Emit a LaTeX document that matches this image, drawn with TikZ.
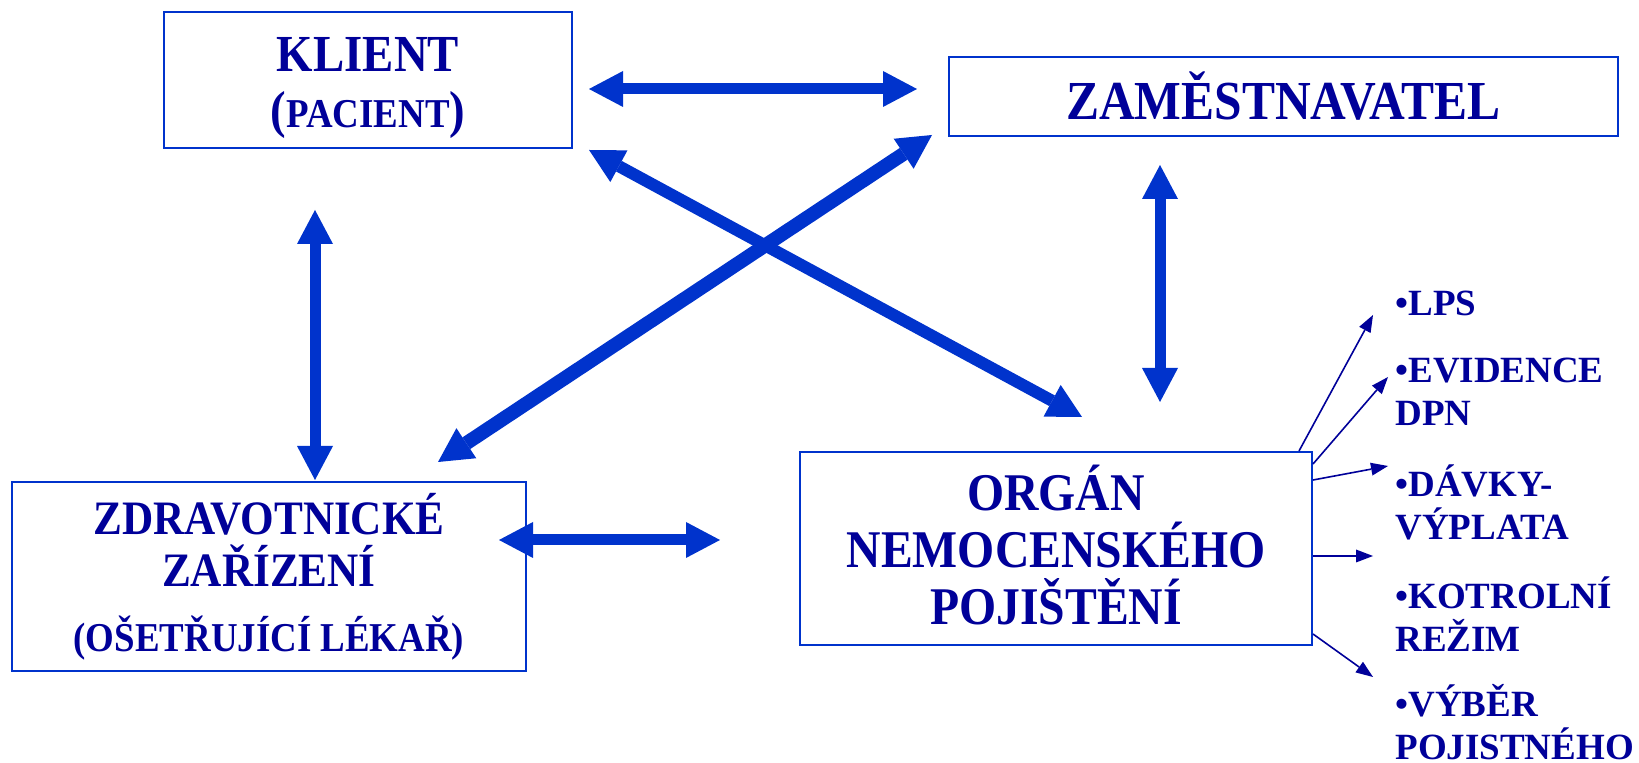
\documentclass[tikz,border=0pt]{standalone}
\usepackage{fontspec}
\usepackage{xcolor}
\usepackage{tikz}
\usetikzlibrary{arrows.meta}
\setmainfont{Liberation Serif}
\newfontfamily\boxfont{Liberation Serif}[FakeStretch=0.9]
\definecolor{textnavy}{RGB}{0,0,153}
\definecolor{linkblue}{RGB}{0,51,204}
\newcommand{\subtext}{\fontsize{20.5}{22}\selectfont}

\begin{document}
\begin{tikzpicture}[x=0.5pt,y=-0.5pt]
\tikzstyle{box} = [draw=linkblue, line width=1pt, text=textnavy, align=center, inner sep=0pt,
	font=\boxfont\bfseries\fontsize{26}{29}\selectfont]
\tikzstyle{big} = [draw=linkblue, line width=5.5pt, >={Triangle[length=17pt,width=18pt,line width=0pt]}, <->]
\tikzstyle{pointer} = [draw=textnavy, line width=0.8pt, >={Triangle[length=8.5pt,width=6.5pt,line width=0pt]}, ->]
\tikzstyle{item} = [anchor=west, align=left, inner sep=0pt, text=textnavy,
	font=\bfseries\fontsize{18.5}{21.5}\selectfont]
%
\useasboundingbox (0,0) rectangle (1639,763);

	\node[box, minimum width=204pt, minimum height=68pt] (klient) at (368,80)
		{\rule{0pt}{25.5pt}KLIENT\\[-1pt]({\subtext PACIENT})};
	\node[box, minimum width=334.5pt, minimum height=39.5pt, font=\boxfont\bfseries\fontsize{27.5}{29}\selectfont] (zam) at (1283.5,96.5)
		{ZAMĚSTNAVATEL};
	\node[box, minimum width=257pt, minimum height=94.5pt, font=\boxfont\bfseries\fontsize{24}{26}\selectfont] (zdrav) at (269,576.5)
		{ZDRAVOTNICKÉ\\ZAŘÍZENÍ\\[6.3pt]{\subtext (OŠETŘUJÍCÍ LÉKAŘ)}};
	\node[box, minimum width=256pt, minimum height=96.5pt, font=\boxfont\bfseries\fontsize{26.5}{28.5}\selectfont] (organ) at (1056,548.5)
		{ORGÁN\\NEMOCENSKÉHO\\POJIŠTĚNÍ\rule[-4pt]{0pt}{4pt}};

	\node[item] (lps) at (1395,303) {\textbullet LPS};
	\node[item] (evid) at (1395,392) {\textbullet EVIDENCE\\DPN};
	\node[item] (davky) at (1395,502) {\textbullet DÁVKY-\\VÝPLATA};
	\node[item] (kontrol) at (1395,614) {\textbullet KOTROLNÍ\\REŽIM};
	\node[item] (vyber) at (1395,722) {\textbullet VÝBĚR\\POJISTNÉHO};

	\draw[big] ([shift={(16,9)}]klient.east) -- ([shift={(-31,-7.5)}]zam.west);
	\draw[big] ([shift={(-53,61)}]klient.south) -- ([shift={(46,-1)}]zdrav.north);
	\draw[big] ([shift={(-28,-36.5)}]zdrav.east) -- ([shift={(-79,-8.5)}]organ.west);
	\draw[big] ([shift={(-123.5,28)}]zam.south) -- ([shift={(104,-49)}]organ.north);
	\draw[big, line width=6pt] ([shift={(16,1)}]klient.south east) -- ([shift={(283,-34)}]organ.north west);
	\draw[big, line width=7pt] ([shift={(-16,-2)}]zam.south west) -- ([shift={(-89,-19)}]zdrav.north east);

	\coordinate (tlps) at (1373,315);
	\coordinate (tevid) at (1388,377);
	\coordinate (tdavky) at (1388,466);
	\coordinate (tkontrol) at (1373,556);
	\coordinate (tvyber) at (1373,677);
	\draw[pointer] ([shift={(-14,0)}]organ.north east) -- (tlps);
	\draw[pointer] ([shift={(0,13)}]organ.north east) -- (tevid);
	\draw[pointer] ([shift={(0,29)}]organ.north east) -- (tdavky);
	\draw[pointer] ([shift={(0,7.5)}]organ.east) -- (tkontrol);
	\draw[pointer] ([shift={(0,-12)}]organ.south east) -- (tvyber);
\end{tikzpicture}
\end{document}
